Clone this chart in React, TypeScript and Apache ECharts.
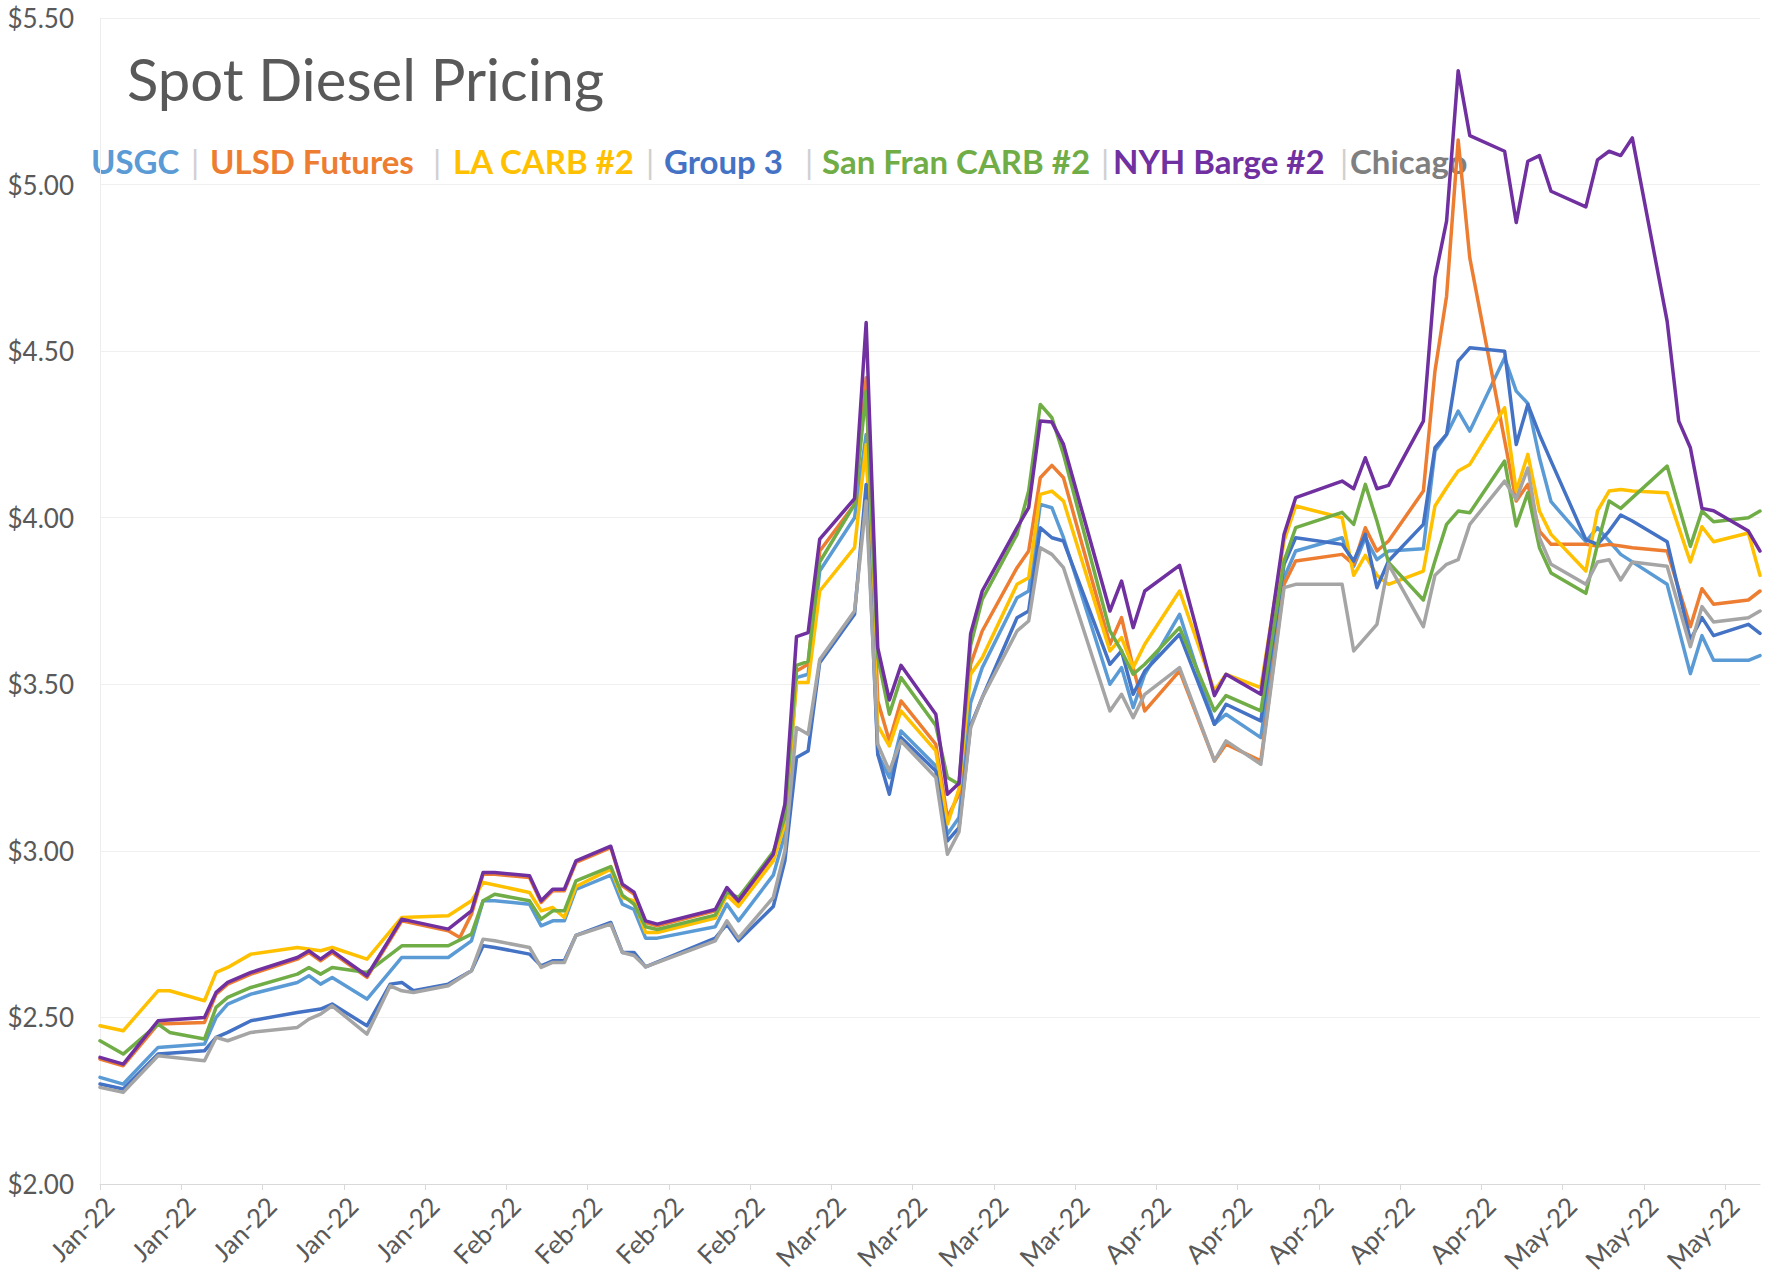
import React, { useEffect, useRef } from "react";
import * as echarts from "echarts";

// Trading dates (vertices); missing days are bridged by connectNulls
const dates = [
  "2022-01-01", "2022-01-03", "2022-01-06", "2022-01-07", "2022-01-10", "2022-01-11", "2022-01-12", "2022-01-14", "2022-01-18", "2022-01-19", "2022-01-20", "2022-01-21", "2022-01-24", "2022-01-26", "2022-01-27", "2022-01-28", "2022-01-31",
  "2022-02-01", "2022-02-02", "2022-02-03", "2022-02-04", "2022-02-07", "2022-02-08", "2022-02-09", "2022-02-10", "2022-02-11", "2022-02-14", "2022-02-15", "2022-02-16", "2022-02-17", "2022-02-18", "2022-02-23", "2022-02-24", "2022-02-25", "2022-02-28",
  "2022-03-01", "2022-03-02", "2022-03-03", "2022-03-04", "2022-03-07", "2022-03-08", "2022-03-09", "2022-03-10", "2022-03-11", "2022-03-14", "2022-03-15", "2022-03-16", "2022-03-17", "2022-03-18", "2022-03-21", "2022-03-22", "2022-03-23", "2022-03-24", "2022-03-25", "2022-03-29", "2022-03-30", "2022-03-31",
  "2022-04-01", "2022-04-04", "2022-04-07", "2022-04-08", "2022-04-11", "2022-04-13", "2022-04-14", "2022-04-18", "2022-04-19", "2022-04-20", "2022-04-21", "2022-04-22", "2022-04-25", "2022-04-26", "2022-04-27", "2022-04-28", "2022-04-29",
  "2022-05-02", "2022-05-03", "2022-05-04", "2022-05-05", "2022-05-06", "2022-05-09", "2022-05-10", "2022-05-11", "2022-05-12", "2022-05-13", "2022-05-16", "2022-05-17", "2022-05-18", "2022-05-19", "2022-05-20", "2022-05-23", "2022-05-24",
];

const usgc = [
  2.32, 2.30, 2.41, null, 2.42, 2.50, 2.54, 2.57, 2.605, 2.625, 2.60, 2.62, 2.555, null, 2.68, null, 2.68,
  null, 2.73, 2.85, 2.85, 2.84, 2.775, 2.79, 2.79, 2.884, 2.927, 2.84, 2.824, 2.738, 2.738, 2.772, 2.84, 2.79, 2.927,
  3.05, 3.52, 3.53, 3.84, 4.00, 4.25, 3.29, 3.22, 3.36, 3.255, 3.05, 3.10, 3.445, 3.55, 3.76, 3.78, 4.04, 4.03, 3.94, 3.50, 3.55, 3.43,
  3.53, 3.71, 3.38, 3.41, 3.34, 3.82, 3.90, 3.94, 3.854, 3.94, 3.874, 3.90, 3.907, 4.20, 4.25, 4.32, 4.26,
  4.48, 4.38, 4.343, 4.18, 4.048, 3.928, 3.97, null, 3.89, null, 3.80, null, 3.532, 3.646, 3.572, 3.572, 3.586,
];

const ulsdFutures = [
  2.375, 2.355, 2.48, null, 2.485, 2.57, 2.60, 2.63, 2.675, 2.695, 2.67, 2.695, 2.62, null, 2.79, null, 2.76,
  2.74, 2.81, 2.93, 2.93, 2.92, 2.845, 2.88, 2.88, 2.965, 3.01, 2.895, 2.87, 2.785, 2.775, 2.82, 2.885, 2.845, 2.985,
  3.12, 3.54, 3.56, 3.90, 4.04, 4.42, 3.45, 3.33, 3.45, 3.32, 3.10, 3.17, 3.56, 3.66, 3.85, 3.90, 4.12, 4.157, 4.12, 3.62, 3.70, 3.55,
  3.42, 3.54, 3.27, 3.32, 3.27, 3.80, 3.87, 3.89, 3.86, 3.97, 3.90, 3.93, 4.08, 4.44, 4.665, 5.134, 4.78,
  null, 4.05, 4.10, 3.96, 3.92, 3.92, 3.915, 3.92, 3.915, 3.91, 3.90, null, 3.673, 3.787, 3.74, 3.753, 3.78,
];

const laCarb = [
  2.475, 2.46, 2.58, 2.58, 2.55, 2.635, 2.65, 2.69, 2.71, null, 2.70, 2.71, 2.675, null, 2.80, null, 2.805,
  null, 2.85, 2.905, null, 2.875, 2.82, 2.83, 2.80, 2.893, 2.945, 2.86, 2.85, 2.755, 2.755, 2.798, 2.867, 2.833, 2.97,
  3.08, 3.505, 3.505, 3.78, 3.91, 4.22, 3.376, 3.315, 3.42, 3.30, 3.08, 3.186, 3.53, 3.58, 3.80, 3.82, 4.07, 4.08, 4.05, 3.60, 3.64, 3.55,
  3.62, 3.78, 3.48, 3.53, 3.49, 3.93, 4.035, 4.00, 3.827, 3.887, 3.827, 3.80, 3.84, 4.035, 4.09, 4.14, 4.16,
  4.33, 4.08, 4.19, 4.02, 3.95, 3.84, 4.02, 4.08, 4.085, 4.08, 4.075, null, 3.867, 3.973, 3.928, 3.954, 3.827,
];

const group3 = [
  2.30, 2.285, 2.39, null, 2.40, 2.44, 2.455, 2.49, 2.515, null, 2.525, 2.54, 2.475, 2.60, 2.605, 2.58, 2.60,
  null, 2.64, 2.715, 2.71, 2.69, 2.655, 2.67, 2.67, 2.746, 2.785, 2.695, 2.695, 2.652, null, 2.738, 2.78, 2.73, 2.833,
  2.97, 3.28, 3.30, 3.565, 3.71, 4.10, 3.29, 3.17, 3.34, 3.24, 3.03, 3.07, 3.376, 3.46, 3.70, 3.72, 3.97, 3.94, 3.93, 3.56, 3.60, 3.47,
  3.54, 3.65, 3.38, 3.44, 3.39, 3.86, 3.94, 3.92, 3.87, 3.95, 3.79, 3.87, 3.98, 4.21, 4.25, 4.47, 4.51,
  4.50, 4.22, 4.34, 4.25, 4.17, 3.934, 3.92, 3.96, 4.008, 3.99, 3.928, null, 3.633, 3.70, 3.646, 3.68, 3.653,
];

const sanFranCarb = [
  2.43, 2.39, 2.48, 2.455, 2.435, 2.53, 2.56, 2.59, 2.63, 2.65, 2.63, 2.65, 2.635, null, 2.715, null, 2.715,
  null, 2.75, 2.85, 2.87, 2.85, 2.795, 2.82, 2.82, 2.91, 2.953, 2.867, 2.84, 2.772, 2.764, 2.807, 2.876, 2.86, 2.997,
  3.10, 3.557, 3.569, 3.867, 4.04, 4.38, 3.583, 3.41, 3.52, 3.376, 3.22, 3.20, 3.617, 3.755, 3.95, 4.08, 4.34, 4.30, 4.19, 3.66, 3.60, 3.53,
  3.56, 3.67, 3.42, 3.466, 3.42, 3.87, 3.97, 4.016, 3.98, 4.10, 3.99, 3.866, 3.753, 3.87, 3.98, 4.02, 4.015,
  4.17, 3.975, 4.075, 3.91, 3.834, 3.773, 3.92, 4.05, 4.028, null, 4.155, null, 3.914, 4.02, 3.988, 4.0, 4.02,
];

const nyhBarge = [
  2.38, 2.36, 2.49, null, 2.50, 2.575, 2.605, 2.635, 2.68, 2.70, 2.675, 2.70, 2.625, null, 2.795, null, 2.765,
  null, 2.82, 2.935, 2.935, 2.925, 2.85, 2.885, 2.885, 2.97, 3.014, 2.90, 2.876, 2.79, 2.78, 2.824, 2.89, 2.85, 2.99,
  3.14, 3.643, 3.655, 3.936, 4.057, 4.586, 3.609, 3.453, 3.557, 3.41, 3.17, 3.203, 3.652, 3.78, 3.97, 4.03, 4.29, 4.287, 4.22, 3.72, 3.81, 3.67,
  3.78, 3.857, 3.466, 3.53, 3.47, 3.95, 4.06, 4.11, 4.087, 4.18, 4.087, 4.097, 4.29, 4.72, 4.89, 5.342, 5.147,
  5.10, 4.886, 5.07, 5.087, 4.98, 4.933, 5.074, 5.10, 5.087, 5.14, 4.59, 4.29, 4.21, 4.028, 4.021, 3.96, 3.90,
];

const chicago = [
  2.29, 2.275, 2.385, null, 2.37, 2.44, 2.43, 2.455, 2.47, 2.495, 2.51, 2.535, 2.45, 2.595, 2.58, 2.575, 2.595,
  null, 2.64, 2.735, 2.73, 2.71, 2.65, 2.665, 2.665, 2.746, 2.78, 2.695, 2.686, 2.652, null, 2.73, 2.79, 2.738, 2.86,
  3.00, 3.37, 3.35, 3.574, 3.72, 4.05, 3.32, 3.24, 3.33, 3.22, 2.99, 3.057, 3.37, 3.46, 3.66, 3.69, 3.91, 3.89, 3.85, 3.42, 3.47, 3.40,
  3.47, 3.55, 3.27, 3.33, 3.26, 3.79, 3.80, 3.80, 3.60, null, 3.68, 3.86, 3.673, 3.827, 3.86, 3.874, 3.98,
  4.11, 4.055, 4.149, 3.94, 3.86, 3.80, 3.867, 3.874, 3.813, 3.867, 3.854, null, 3.613, 3.733, 3.687, 3.70, 3.72,
];

const seriesNames = ["USGC", "ULSD Futures", "LA CARB #2", "Group 3", "San Fran CARB #2", "NYH Barge #2", "Chicago"];
const seriesColors = ["#5B9BD5", "#ED7D31", "#FFC000", "#4472C4", "#70AD47", "#7030A0", "#A5A5A5"];
const legendTextColors = ["#5B9BD5", "#ED7D31", "#FFC000", "#4472C4", "#70AD47", "#7030A0", "#7F7F7F"];
const legendX = [91, 210, 453, 664, 822, 1113, 1350];
const separatorX = [191, 433, 646, 805, 1101, 1340];
const monthLabels = ["Jan", "Feb", "Mar", "Apr", "May"];
const axisStart = "2022-01-01";
const axisEnd = "2022-05-24";
const titleText = "Spot Diesel Pricing";

export default function App() {
  const ref = useRef<HTMLDivElement>(null);

  useEffect(() => {
    if (!ref.current) return;
    const chart = echarts.init(ref.current, null, { renderer: "svg" });

    const calendar: string[] = [];
    const t0 = Date.parse(axisStart + "T00:00:00Z");
    const t1 = Date.parse(axisEnd + "T00:00:00Z");
    for (let t = t0; t <= t1; t += 86400000) calendar.push(new Date(t).toISOString().slice(0, 10));
    const index = new Map(calendar.map((d, i) => [d, i]));

    const toSeries = (vals: (number | null)[]) => {
      const arr: (number | null)[] = new Array(calendar.length).fill(null);
      dates.forEach((d, i) => {
        const k = index.get(d);
        if (k !== undefined && vals[i] !== null && vals[i] !== undefined) arr[k] = vals[i];
      });
      return arr;
    };

    const allValues = [usgc, ulsdFutures, laCarb, group3, sanFranCarb, nyhBarge, chicago];
    const font = "Lato, 'Open Sans', sans-serif";

    const graphics: any[] = [
      {
        type: "text",
        x: 127,
        y: 78,
        z: 0,
        style: { text: titleText, fill: "#595959", fontSize: 58, fontFamily: font, verticalAlign: "middle" },
      },
    ];
    seriesNames.forEach((n, i) => {
      graphics.push({
        type: "text",
        x: legendX[i],
        y: 161,
        z: 0,
        style: { text: n, fill: legendTextColors[i], fontSize: 33, fontWeight: "bold", fontFamily: font, verticalAlign: "middle" },
      });
    });
    separatorX.forEach((x) => {
      graphics.push({
        type: "text",
        x,
        y: 161,
        z: 0,
        style: { text: "|", fill: "#D0D0D0", fontSize: 33, fontFamily: font, verticalAlign: "middle" },
      });
    });

    chart.setOption({
      animation: false,
      backgroundColor: "#ffffff",
      grid: { left: 100, right: 23, top: 18, bottom: 101, containLabel: false },
      xAxis: {
        type: "category",
        boundaryGap: false,
        data: calendar,
        axisLine: { show: true, lineStyle: { color: "#D9D9D9", width: 1 } },
        axisTick: { show: true, interval: 6, length: 6, lineStyle: { color: "#D9D9D9" } },
        axisLabel: {
          interval: 6,
          rotate: 45,
          margin: 8,
          verticalAlign: "top",
          color: "#595959",
          fontSize: 26,
          fontFamily: font,
          formatter: (v: string) => monthLabels[parseInt(v.slice(5, 7), 10) - 1] + "-" + v.slice(2, 4),
        },
        splitLine: { show: false },
      },
      yAxis: {
        type: "value",
        min: 2,
        max: 5.5,
        interval: 0.5,
        axisLine: { show: true, lineStyle: { color: "#EDEDED" } },
        axisTick: { show: false },
        axisLabel: {
          margin: 26,
          color: "#595959",
          fontSize: 26,
          fontFamily: font,
          formatter: (v: number) => "$" + v.toFixed(2),
        },
        splitLine: { show: true, lineStyle: { color: "#EFEFEF", width: 1 } },
      },
      graphic: graphics,
      series: seriesNames.map((name, i) => ({
        name,
        type: "line",
        data: toSeries(allValues[i]),
        connectNulls: true,
        showSymbol: false,
        symbol: "none",
        z: 2 + i,
        lineStyle: { color: seriesColors[i], width: 3.5, join: "round", cap: "round" },
        itemStyle: { color: seriesColors[i] },
      })),
    });

    return () => chart.dispose();
  }, []);

  return (
    <div
      ref={ref}
      style={{ position: "absolute", left: 0, top: 0, width: 1783, height: 1285, background: "#ffffff" }}
    />
  );
}
